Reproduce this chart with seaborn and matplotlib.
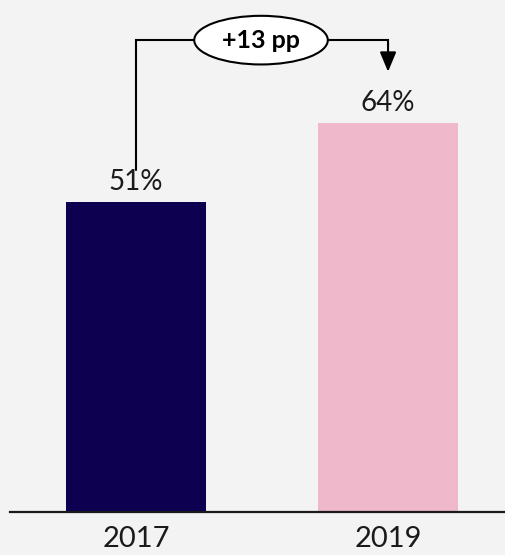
import matplotlib
matplotlib.use("Agg")
import matplotlib.pyplot as plt
from matplotlib.patches import Ellipse
import seaborn as sns
import pandas as pd

# Share of respondents by survey year
years = ["2017", "2019"]
shares = [51, 64]
bar_colors = ["#0E0050", "#F0B9CB"]
change_label = "+13 pp"

sns.set_theme(style="white")
plt.rcParams["font.family"] = ["Lato", "DejaVu Sans"]

bg = "#F3F3F3"
fig = plt.figure(figsize=(5.06, 5.55), dpi=100, facecolor=bg)
ax = fig.add_axes([10 / 506, 43 / 555, 496 / 506, 512 / 555])
ax.set_facecolor(bg)

df = pd.DataFrame({"year": years, "share": shares})
sns.barplot(data=df, x="year", y="share", hue="year", palette=bar_colors,
            width=0.556, dodge=False, legend=False, saturation=1,
            linewidth=0, ax=ax)

ax.set_xlim(-0.5, 1.468)
ax.set_ylim(0, 84.2)
ax.set_xlabel("")
ax.set_ylabel("")
ax.set_yticks([])
for side in ["left", "right", "top"]:
    ax.spines[side].set_visible(False)
ax.spines["bottom"].set_color("#1a1a1a")
ax.spines["bottom"].set_linewidth(1.6)
ax.tick_params(axis="x", length=0, pad=10, labelsize=21, labelcolor="#1a1a1a")

for container in ax.containers:
    ax.bar_label(container, labels=[f"{v:.0f}%" for v in container.datavalues],
                 padding=5, fontsize=20, color="#1a1a1a")

# Bracket showing the change between the two years
y_level = shares[1] + 13.6
start_y = shares[0] + 5.3
end_y = shares[1] + 8.4
ax.plot([0, 0, 1, 1], [start_y, y_level, y_level, y_level - 1], color="black",
        lw=1.5, solid_joinstyle="miter", zorder=3)
ax.annotate("", xy=(1, end_y), xytext=(1, y_level - 0.5),
            arrowprops=dict(arrowstyle="-|>,head_length=0.6,head_width=0.25",
                            mutation_scale=20, lw=1.5, color="black",
                            shrinkA=0, shrinkB=0), zorder=3)
ell = Ellipse((0.496, y_level), width=0.53, height=8.0, facecolor="white",
              edgecolor="black", lw=1.5, zorder=4, clip_on=False)
ax.add_patch(ell)
ax.text(0.496, y_level, change_label, ha="center", va="center", fontsize=18,
        fontweight="bold", color="black", zorder=5)

fig.savefig("out.png", dpi=100, facecolor=bg)
